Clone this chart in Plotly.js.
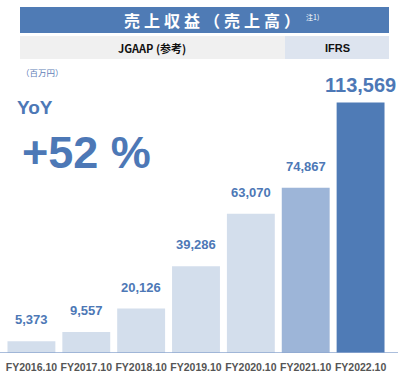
<!DOCTYPE html>
<html><head><meta charset="utf-8">
<script src="https://cdn.plot.ly/plotly-3.0.1.min.js"></script>
<style>html,body{margin:0;padding:0;background:#fff}#c{width:404px;height:380px}</style>
</head><body><div id="c"></div>
<script>
const categories = ['FY2016.10','FY2017.10','FY2018.10','FY2019.10','FY2020.10','FY2021.10','FY2022.10'];
const revenue = [5373, 9557, 20126, 39286, 63070, 74867, 113569];
const valueLabels = ['5,373','9,557','20,126','39,286','63,070','74,867','113,569'];
const barColors = ['#d3deec','#d3deec','#d3deec','#d3deec','#d3deec','#9db5d8','#4f7bb6'];

const W = 404, H = 380, ML = 4, MR = 16, MT = 0, MB = 27;
const PW = W - ML - MR, PH = H - MT - MB;
const px = p => (p - ML) / PW;
const py = p => (H - MB - p) / PH;
const LAT = '"Liberation Sans", Arial, sans-serif';
const CJK = '"Noto Sans CJK JP", "Liberation Sans", sans-serif';
const BLUE = '#4d78b6';

const annotations = revenue.map((v, i) => ({
  x: categories[i], y: v, xref: 'x', yref: 'y',
  text: valueLabels[i], showarrow: false, yanchor: 'bottom',
  yshift: i === revenue.length - 1 ? 4 : 12,
  font: {family: LAT, size: i === revenue.length - 1 ? 20 : 13, color: BLUE, weight: 'bold'}
}));

const sp = '\u2005';
const title = ['売','上','収','益','（','売','上','高','）'].join(sp);
annotations.push(
  {xref:'paper', yref:'paper', x: px(212), y: py(20), text: title, showarrow:false,
   xanchor:'center', yanchor:'middle', font:{family:CJK, size:16, color:'#ffffff', weight:'bold'}},
  {xref:'paper', yref:'paper', x: px(304), y: py(17), text: '注1)', showarrow:false,
   xanchor:'left', yanchor:'middle', font:{family:CJK, size:7, color:'#ffffff'}},
  {xref:'paper', yref:'paper', x: px(152), y: py(48), text: 'JGAAP (参考)', showarrow:false,
   xanchor:'center', yanchor:'middle', font:{family:CJK, size:11, color:'#111111', weight:'bold'}},
  {xref:'paper', yref:'paper', x: px(337), y: py(48), text: 'IFRS', showarrow:false,
   xanchor:'center', yanchor:'middle', font:{family:LAT, size:11, color:'#111111', weight:'bold'}},
  {xref:'paper', yref:'paper', x: px(19), y: py(72), text: '（百万円）', showarrow:false,
   xanchor:'left', yanchor:'middle', font:{family:CJK, size:8.5, color:'#5f80b8'}},
  {xref:'paper', yref:'paper', x: px(15), y: py(108), text: 'YoY', showarrow:false,
   xanchor:'left', yanchor:'middle', font:{family:LAT, size:19, color:BLUE, weight:'bold'}},
  {xref:'paper', yref:'paper', x: px(20), y: py(152), text: '+52 %', showarrow:false,
   xanchor:'left', yanchor:'middle', font:{family:LAT, size:45, color:BLUE, weight:'bold'}}
);

const shapes = [
  {type:'rect', xref:'paper', yref:'paper', x0:px(20), x1:px(389), y0:py(33), y1:py(7), fillcolor:'#4f7bb5', line:{width:0}, layer:'below'},
  {type:'rect', xref:'paper', yref:'paper', x0:px(20), x1:px(285), y0:py(59), y1:py(36), fillcolor:'#f0f0f0', line:{width:0}, layer:'below'},
  {type:'rect', xref:'paper', yref:'paper', x0:px(285), x1:px(389), y0:py(59), y1:py(36), fillcolor:'#dde4ef', line:{width:0}, layer:'below'},
  {type:'line', xref:'paper', yref:'y', x0:px(0), x1:px(398), y0:0, y1:0, line:{color:'#8fa8d0', width:1.5}}
];

Plotly.newPlot('c', [{
  type:'bar', x: categories, y: revenue, marker:{color: barColors, line:{width:0}},
  hoverinfo:'none'
}], {
  width: W, height: H, margin:{l:ML, r:MR, t:MT, b:MB},
  paper_bgcolor:'#ffffff', plot_bgcolor:'#ffffff',
  bargap: 0.127, showlegend:false,
  xaxis:{type:'category', range:[-0.5, categories.length - 0.5], showgrid:false, zeroline:false, showline:false,
    tickangle:0, ticks:'outside', ticklen:4, tickcolor:'rgba(0,0,0,0)',
    tickfont:{family:LAT, size:10.5, color:'#555555', weight:'bold'}},
  yaxis:{range:[0,160000], visible:false, showgrid:false, zeroline:false},
  annotations, shapes
}, {staticPlot:true, displayModeBar:false});
</script></body></html>
